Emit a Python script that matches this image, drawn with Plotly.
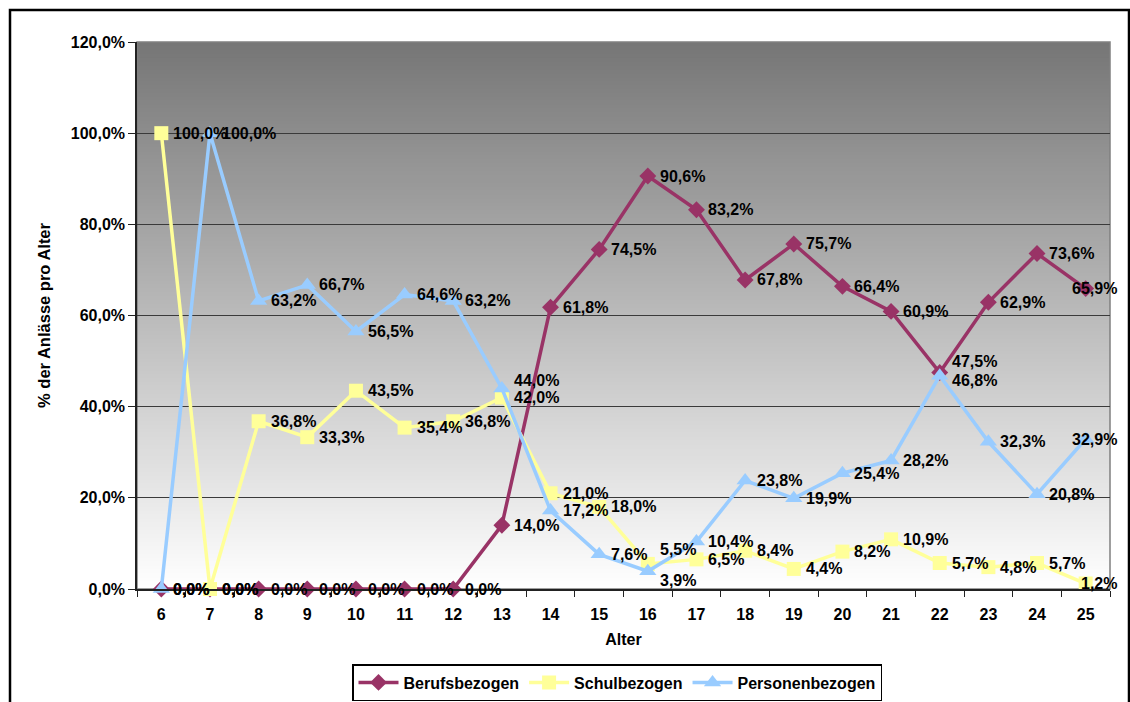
import plotly.graph_objects as go

# Alter (x categories)
ages = list(range(6, 26))

# Anteil der Anlässe pro Alter, in Prozent
berufsbezogen = [0.0, 0.0, 0.0, 0.0, 0.0, 0.0, 0.0, 14.0, 61.8, 74.5,
                 90.6, 83.2, 67.8, 75.7, 66.4, 60.9, 47.5, 62.9, 73.6, 65.9]
schulbezogen = [100.0, 0.0, 36.8, 33.3, 43.5, 35.4, 36.8, 42.0, 21.0, 18.0,
                5.5, 6.5, 8.4, 4.4, 8.2, 10.9, 5.7, 4.8, 5.7, 1.2]
personenbezogen = [0.0, 100.0, 63.2, 66.7, 56.5, 64.6, 63.2, 44.0, 17.2, 7.6,
                   3.9, 10.4, 23.8, 19.9, 25.4, 28.2, 46.8, 32.3, 20.8, 32.9]

y_ticks = [0, 20, 40, 60, 80, 100, 120]

series = [
    ("Berufsbezogen", berufsbezogen, "#993366", "diamond", 13),
    ("Schulbezogen", schulbezogen, "#FFFF99", "square", 14),
    ("Personenbezogen", personenbezogen, "#99CCFF", "triangle-up", 15),
]

# Figure geometry (pixels)
W, H = 1130, 702
L, R, T, B = 137, 1110, 42, 589
FONT = "Arial, Liberation Sans, sans-serif"


def px_x(px):
    return (px - L) / (R - L)


def px_y(py):
    return (B - py) / (B - T)


def fmt(v):
    return f"{v:.1f}".replace(".", ",") + "%"


def bold(size):
    return dict(family=FONT, size=size, color="black", weight="bold")


fig = go.Figure()

for name, vals, color, symbol, msize in series:
    fig.add_trace(go.Scatter(
        x=ages, y=vals, name=name, mode="lines+markers",
        line=dict(color=color, width=3.5),
        marker=dict(symbol=symbol, size=msize, color=color, line=dict(width=0)),
        cliponaxis=False,
    ))

# Small manual nudges for crowded data labels: (series, age) -> (dx, dy) pixels
nudges = {
    ("Schulbezogen", 16): (0, 14),
    ("Personenbezogen", 16): (0, -9),
    ("Berufsbezogen", 22): (0, 11),
    ("Personenbezogen", 22): (0, -5),
    ("Personenbezogen", 13): (0, 8),
}

annotations = []
for name, vals, color, symbol, msize in series:
    for a, v in zip(ages, vals):
        dx, dy = nudges.get((name, a), (0, 0))
        last = a == ages[-1]
        annotations.append(dict(
            x=a, y=v, xref="x", yref="y", text=fmt(v),
            showarrow=False, xanchor="right" if last else "left", yanchor="middle",
            xshift=(33 if last else 10) + dx, yshift=dy,
            font=bold(16),
        ))

shapes = []
# vertical grey gradient for the plot area
n = 140
top, bottom = 118, 255
for i in range(n):
    c = round(top + (bottom - top) * i / (n - 1))
    shapes.append(dict(
        type="rect", xref="x domain", yref="y domain", layer="below",
        x0=0, x1=1, y0=1 - (i + 1) / n - 0.002, y1=1 - i / n,
        fillcolor=f"rgb({c},{c},{c})", line=dict(width=0),
    ))
# plot area frame
shapes.append(dict(type="rect", xref="x domain", yref="y domain", layer="below",
                   x0=0, x1=1, y0=0, y1=1, line=dict(color="#808080", width=1.5)))
# chart frame
shapes.append(dict(type="rect", xref="paper", yref="paper", layer="above",
                   x0=px_x(10), x1=px_x(1129), y0=px_y(720), y1=px_y(10),
                   line=dict(color="black", width=2.5)))

fig.update_layout(
    width=W, height=H,
    margin=dict(l=L, r=W - R, t=T, b=H - B, autoexpand=False),
    paper_bgcolor="white", plot_bgcolor="white",
    font=bold(16),
    separators=",.",
    showlegend=True,
    legend=dict(
        orientation="h", x=px_x(617), xanchor="center", y=px_y(664), yanchor="top",
        bgcolor="white", bordercolor="black", borderwidth=1.5,
        font=bold(16),
        itemwidth=40, tracegroupgap=0,
    ),
    annotations=annotations,
    shapes=shapes,
)

fig.update_xaxes(
    range=[5.5, 25.5], tickmode="array", tickvals=ages,
    ticktext=[str(a) for a in ages],
    ticks="", showgrid=False, zeroline=False,
    showline=True, linecolor="#222222", linewidth=1.5,
    minor=dict(ticks="outside", tick0=5.5, dtick=1, ticklen=6,
               tickcolor="#222222", tickwidth=1, showgrid=False),
    tickfont=bold(16),
    ticklabelstandoff=10,
    title=dict(text="Alter", font=bold(16), standoff=12),
)

fig.update_yaxes(
    range=[0, 120], tickmode="array", tickvals=y_ticks,
    ticktext=[fmt(t) for t in y_ticks],
    ticks="outside", ticklen=7, tickcolor="#222222",
    showgrid=True, gridcolor="#3a3a3a", gridwidth=1, zeroline=False,
    showline=True, linecolor="#222222", linewidth=1.5,
    tickfont=bold(16),
    title=dict(text="% der Anlässe pro Alter", font=bold(16.5), standoff=16),
)

fig.write_html("out.html")
